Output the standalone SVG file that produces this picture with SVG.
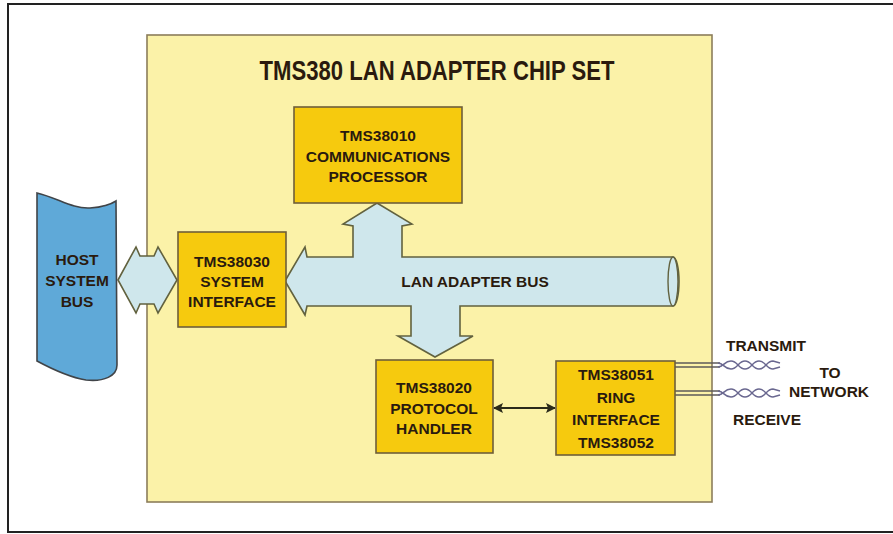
<svg xmlns="http://www.w3.org/2000/svg" width="893" height="534" viewBox="0 0 893 534">
<defs>
<style>
.lbl{font-family:"Liberation Sans",Arial,sans-serif;font-weight:bold;font-size:15.5px;fill:#2a1a0e;text-anchor:middle}
.chip{fill:#f6ca0e;stroke:#6e5e3a;stroke-width:1.6}
.bus{fill:#cfe7ec;stroke:#62623f;stroke-width:1.6;stroke-linejoin:miter}
.wire{fill:none;stroke:#5c5a58;stroke-width:1.4}
.twist{fill:none;stroke:#6a6890;stroke-width:1.5}
</style>
<marker id="ah" viewBox="0 0 10 10" refX="9" refY="5" markerWidth="10" markerHeight="10" markerUnits="userSpaceOnUse" orient="auto-start-reverse">
<path d="M0,0 L10,5 L0,10 L2,5 Z" fill="#2a2a1a"/>
</marker>
</defs>
<rect x="0" y="0" width="893" height="534" fill="#ffffff"/>
<rect x="8" y="4" width="900" height="528" fill="none" stroke="#222222" stroke-width="2"/>
<g id="panel">
<rect x="147" y="35" width="565" height="467" fill="#fbf2a8" stroke="#8c7d5a" stroke-width="1.6"/>
<text x="437" y="80" class="lbl" style="font-size:27px" textLength="355" lengthAdjust="spacingAndGlyphs">TMS380 LAN ADAPTER CHIP SET</text>
</g>
<g id="connectors">
<path class="bus" d="M285,281 L305,247 L307,257 L353,257 L353,226 L343,224 L377,203 L412,224 L402,226 L402,257 L673,257 A6,24.5 0 0 1 673,306 L460,306 L460,336 L473,336 L435,357 L398,336 L411,336 L411,306 L307,306 L305,315 Z"/>
<ellipse cx="673" cy="281.5" rx="5" ry="24.5" fill="#cfe7ec" stroke="#62623f" stroke-width="1.4"/>
<text x="475" y="287" class="lbl">LAN ADAPTER BUS</text>
<path class="bus" d="M118,280 L136,247 L140,256 L154,256 L158,247 L177,280 L158,313 L154,304 L140,304 L136,313 Z"/>
<line x1="494" y1="408" x2="555" y2="408" stroke="#2a2a1a" stroke-width="2" marker-start="url(#ah)" marker-end="url(#ah)"/>
<g id="transmit">
<line class="wire" x1="675" y1="363" x2="720" y2="363"/>
<line class="wire" x1="675" y1="367" x2="720" y2="367"/>
<path class="twist" d="M718,363 C724,363 724,369 731,369 C738,369 738,361 745,361 C752,361 752,369 759,369 C766,369 766,361 773,361 L780,363"/>
<path class="twist" d="M718,367 C724,367 724,361 731,361 C738,361 738,369 745,369 C752,369 752,361 759,361 C766,361 766,369 773,369 L780,367"/>
</g>
<g id="receive">
<line class="wire" x1="675" y1="391" x2="720" y2="391"/>
<line class="wire" x1="675" y1="395" x2="720" y2="395"/>
<path class="twist" d="M718,391 C724,391 724,397 731,397 C738,397 738,389 745,389 C752,389 752,397 759,397 C766,397 766,389 773,389 L780,391"/>
<path class="twist" d="M718,395 C724,395 724,389 731,389 C738,389 738,397 745,397 C752,397 752,389 759,389 C766,389 766,397 773,397 L780,395"/>
</g>
</g>
<g id="host-bus">
<path d="M37,193 C58,198 72,209 90,208 C102,207 110,205 116,201 L117,365 C117,376 104,382 86,380 C68,377 50,368 37,361 Z" fill="#5fa9d8" stroke="#404448" stroke-width="1.6"/>
<text x="77" y="265" class="lbl">HOST</text>
<text x="77" y="286" class="lbl">SYSTEM</text>
<text x="77" y="307" class="lbl">BUS</text>
</g>
<g id="comm-processor">
<rect x="294" y="107" width="168" height="96" class="chip"/>
<text x="378" y="141" class="lbl">TMS38010</text>
<text x="378" y="162" class="lbl">COMMUNICATIONS</text>
<text x="378" y="182" class="lbl">PROCESSOR</text>
</g>
<g id="system-interface">
<rect x="178" y="232" width="108" height="95" class="chip"/>
<text x="232" y="267" class="lbl">TMS38030</text>
<text x="232" y="287" class="lbl">SYSTEM</text>
<text x="232" y="307" class="lbl">INTERFACE</text>
</g>
<g id="protocol-handler">
<rect x="376" y="360" width="117" height="93" class="chip"/>
<text x="434" y="393" class="lbl">TMS38020</text>
<text x="434" y="414" class="lbl">PROTOCOL</text>
<text x="434" y="434" class="lbl">HANDLER</text>
</g>
<g id="ring-interface">
<rect x="556" y="361" width="119" height="94" class="chip"/>
<text x="616" y="380" class="lbl">TMS38051</text>
<text x="616" y="403" class="lbl">RING</text>
<text x="616" y="425" class="lbl">INTERFACE</text>
<text x="616" y="448" class="lbl">TMS38052</text>
</g>
<g id="network-labels">
<text x="766" y="351" class="lbl">TRANSMIT</text>
<text x="830" y="378" class="lbl">TO</text>
<text x="829" y="397" class="lbl">NETWORK</text>
<text x="767" y="425" class="lbl">RECEIVE</text>
</g>
</svg>
